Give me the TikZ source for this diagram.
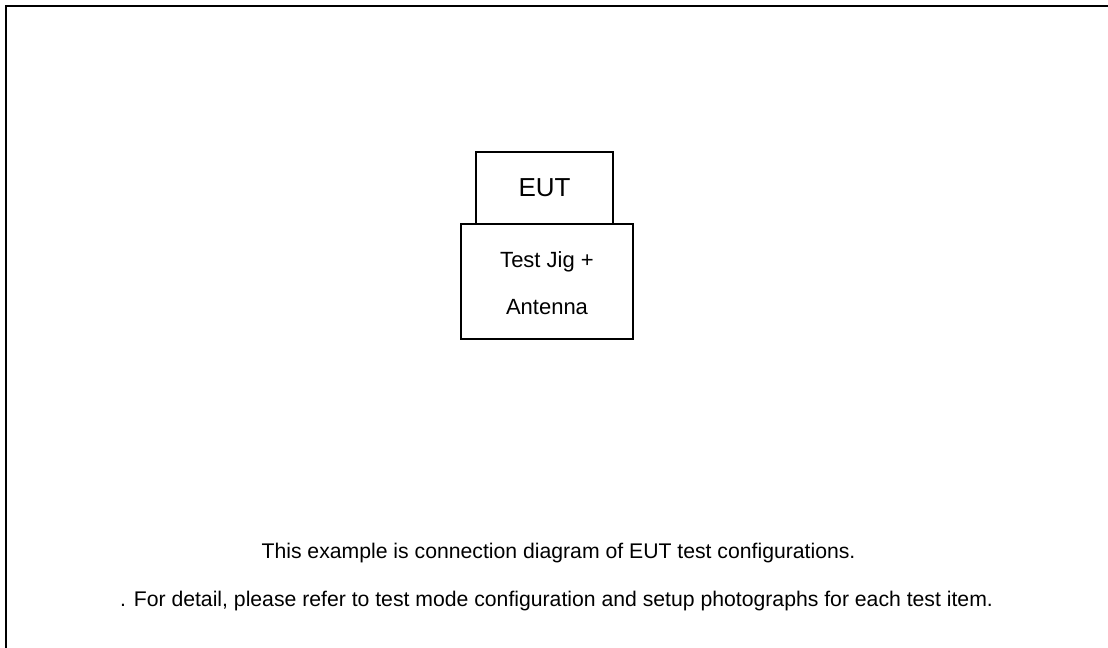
\documentclass[tikz,border=0pt]{standalone}
\usepackage{fontspec}
\setmainfont{Liberation Sans}
\begin{document}
\begin{tikzpicture}[x=0.75pt,y=-0.75pt,
  frame/.style={line width=1.8pt},
  box/.style={draw,line width=0.8pt,inner sep=0pt,outer sep=0pt},
  note/.style={font=\fontsize{15.9}{19}\selectfont,anchor=base}]
\useasboundingbox (0,0) rectangle (1108,648);
\coordinate (tl) at (6,6);
\coordinate (tr) at (1108,6);
\coordinate (bl) at (6,648);
\draw[frame] (tr) -- (tl) -- (bl);
\node[box,minimum width=102.75pt,minimum height=54pt,font=\fontsize{19.5}{23}\selectfont] (eut) at (544.5,188) {EUT};
\node[box,minimum width=129pt,minimum height=86.25pt] (jig) at (547,281.5) {};
\node[align=center,font=\fontsize{16.5}{35.25}\selectfont,anchor=base] (jigtxt) at (547,315) {Test Jig +\\Antenna};
\node[note] (n1) at (558.5,559) {This example is connection diagram of EUT test configurations.};
\node[note] (n2) at (556.5,607) {. For detail, please refer to test mode configuration and setup photographs for each test item.};
\end{tikzpicture}
\end{document}
